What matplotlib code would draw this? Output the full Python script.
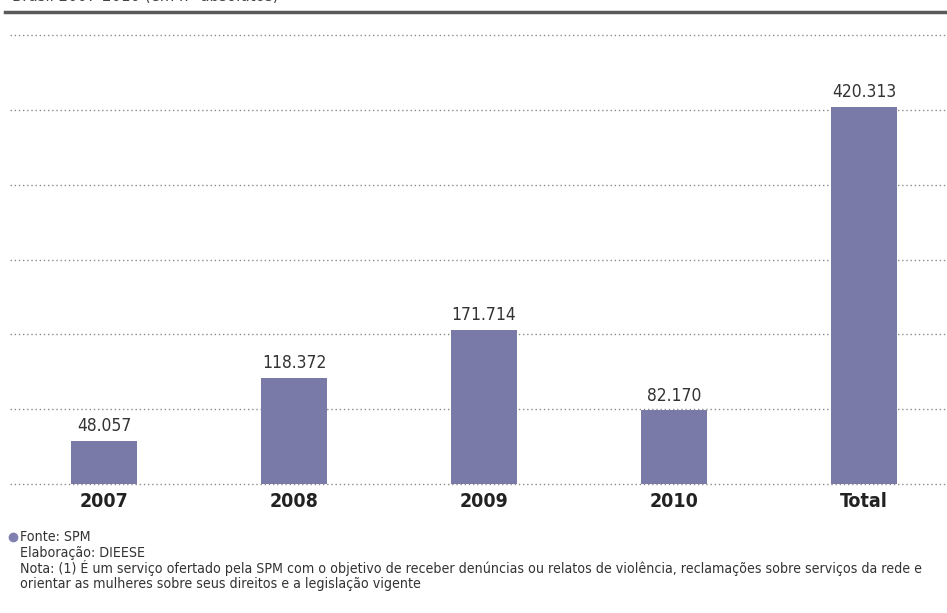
import matplotlib
matplotlib.use("Agg")
import matplotlib.pyplot as plt
from matplotlib.lines import Line2D
import numpy as np

categories = ["2007", "2008", "2009", "2010", "Total"]
values = [48057, 118372, 171714, 82170, 420313]
value_labels = ["48.057", "118.372", "171.714", "82.170", "420.313"]
grid_values = [0, 83333, 166667, 250000, 333333, 416667, 500000]

plt.rcParams["font.family"] = ["DejaVu Sans"]
plt.rcParams["font.stretch"] = "condensed"

W, H = 947, 613
fig = plt.figure(figsize=(W / 100, H / 100), dpi=100)
fig.patch.set_facecolor("white")

ax = fig.add_axes([10 / W, (H - 484) / H, 937 / W, 449 / H])
x = np.arange(len(categories))
ax.set_xlim(-0.495, 4.437)
ax.set_ylim(0, 500000)

for g in grid_values:
    ax.axhline(g, color="#8a8a8a", linewidth=1.0, linestyle=(0, (1, 2)),
               zorder=1, clip_on=False)

ax.bar(x, values, width=0.35, color="#7a7aa8", zorder=2)
for xi, v, lab in zip(x, values, value_labels):
    ax.text(xi, v + 6000, lab, ha="center", va="bottom", fontsize=12.5,
            color="#333333", zorder=3, fontstretch="condensed")

ax.set_xticks(x)
ax.set_xticklabels(categories, fontsize=14, fontweight="bold", color="#222222",
                   fontstretch="condensed")
ax.tick_params(axis="x", length=0, pad=6)
ax.set_yticks([])
for s in ax.spines.values():
    s.set_visible(False)

# top rule and subtitle (cut at the top edge, as in the source)
fig.add_artist(Line2D([5 / W, 1.0], [(H - 12) / H] * 2, color="#5a5a5a",
                      linewidth=2.5, transform=fig.transFigure))
fig.text(12 / W, (H - 5) / H, "Brasil 2007-2010 (em nº absolutos)", fontsize=12,
         color="#444444", ha="left", va="bottom", fontstretch="condensed")

# footnotes
fig.add_artist(Line2D([13 / W], [(H - 537) / H], marker="o", markersize=6,
                      color="#8080b0", transform=fig.transFigure))
notes = [
    "Fonte: SPM",
    "Elaboração: DIEESE",
    "Nota: (1) É um serviço ofertado pela SPM com o objetivo de receber denúncias ou relatos de violência, reclamações sobre serviços da rede e",
    "orientar as mulheres sobre seus direitos e a legislação vigente",
]
for i, t in enumerate(notes):
    fig.text(20 / W, (H - 537 - i * 15.7) / H, t, fontsize=10.2, color="#333333",
             ha="left", va="center", fontstretch="condensed")

fig.savefig("out.png", dpi=100, facecolor="white")
